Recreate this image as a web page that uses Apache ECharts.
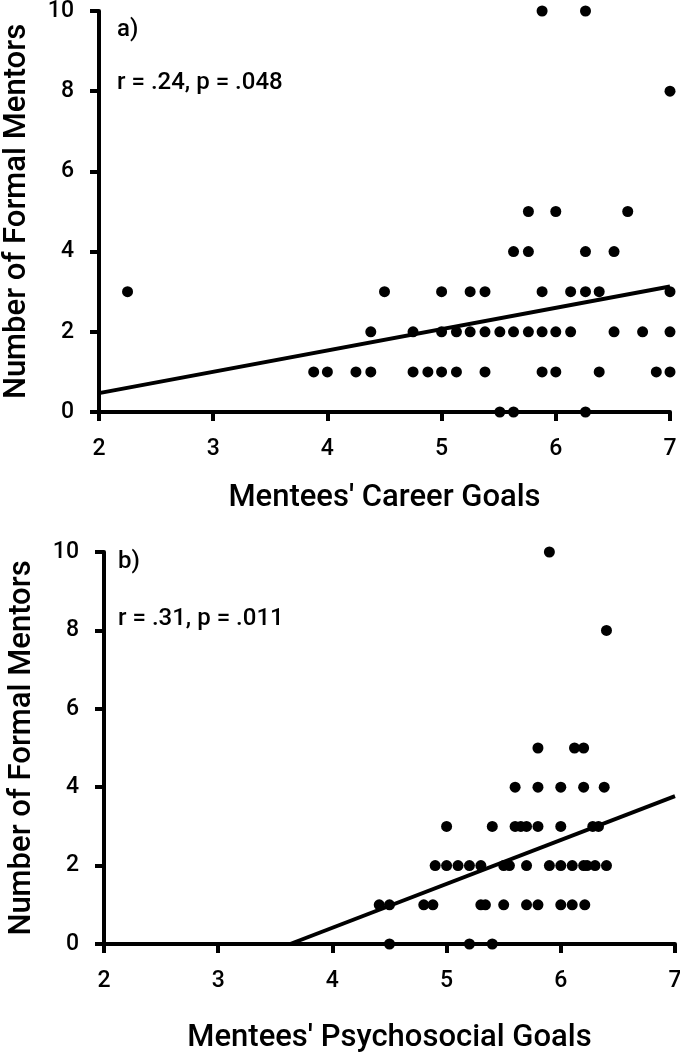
<!DOCTYPE html>
<html>
<head>
<meta charset="utf-8">
<script src="https://cdn.jsdelivr.net/npm/echarts@6/dist/echarts.min.js"></script>
<style>
html,body{margin:0;padding:0;background:#fff;}
#chart{width:680px;height:1055px;}
</style>
</head>
<body>
<div id="chart"></div>
<script>
// Panel a) Career goals vs number of formal mentors
const careerPoints = [
  [2.25,3],
  [3.88,1],[4.00,1],[4.25,1],[4.38,1],[4.75,1],[4.88,1],[5.00,1],[5.13,1],[5.38,1],[5.88,1],[6.00,1],[6.38,1],[6.88,1],[7.00,1],
  [4.38,2],[4.75,2],[5.00,2],[5.13,2],[5.25,2],[5.38,2],[5.51,2],[5.63,2],[5.76,2],[5.88,2],[6.00,2],[6.13,2],[6.51,2],[6.76,2],[7.00,2],
  [4.50,3],[5.00,3],[5.25,3],[5.38,3],[5.88,3],[6.13,3],[6.26,3],[6.38,3],[7.00,3],
  [5.63,4],[5.76,4],[6.26,4],[6.51,4],
  [5.76,5],[6.00,5],[6.63,5],
  [7.00,8],
  [5.88,10],[6.26,10],
  [5.51,0],[5.63,0],[6.26,0]
];
const careerTrend = [[2,0.47],[7,3.13]];

// Panel b) Psychosocial goals vs number of formal mentors
const psychoPoints = [
  [4.50,0],[5.20,0],[5.40,0],
  [4.41,1],[4.50,1],[4.80,1],[4.88,1],[5.30,1],[5.34,1],[5.50,1],[5.70,1],[5.80,1],[6.00,1],[6.10,1],[6.21,1],
  [4.90,2],[5.00,2],[5.10,2],[5.20,2],[5.30,2],[5.50,2],[5.55,2],[5.70,2],[5.90,2],[6.00,2],[6.10,2],[6.20,2],[6.23,2],[6.30,2],[6.40,2],
  [5.00,3],[5.40,3],[5.60,3],[5.65,3],[5.70,3],[5.80,3],[6.00,3],[6.28,3],[6.33,3],
  [5.60,4],[5.80,4],[6.00,4],[6.20,4],[6.38,4],
  [5.80,5],[6.12,5],[6.20,5],
  [6.40,8],
  [5.90,10]
];
const psychoTrend = [[3.63,0],[7,3.77]];

const xTicks = [2,3,4,5,6,7];
const yTicks = [0,2,4,6,8,10];
const panelLabels = ['a)','b)'];
const statLabels = ['r = .24, p = .048','r = .31, p = .011'];
const xNames = ["Mentees' Career Goals","Mentees' Psychosocial Goals"];
const yName = 'Number of Formal Mentors';

const FONT = 'Roboto';
const W = 500;
const chart = echarts.init(document.getElementById('chart'));

function xAxisCfg(gi, name, gap){
  return {
    type:'value', gridIndex:gi, min:xTicks[0], max:xTicks[xTicks.length-1], interval:1,
    name:name, nameLocation:'middle', nameGap:gap,
    nameTextStyle:{fontFamily:FONT, fontSize:31, fontWeight:W, color:'#000'},
    axisLine:{show:true, onZero:false, lineStyle:{color:'#000', width:4}},
    axisTick:{show:true, length:9, lineStyle:{color:'#000', width:4}},
    axisLabel:{fontFamily:FONT, fontSize:23, fontWeight:W, color:'#000', margin:26},
    splitLine:{show:false}
  };
}
function yAxisCfg(gi){
  return {
    type:'value', gridIndex:gi, min:yTicks[0], max:yTicks[yTicks.length-1], interval:2,
    name:yName, nameLocation:'middle', nameGap:66, nameRotate:90,
    nameTextStyle:{fontFamily:FONT, fontSize:31, fontWeight:W, color:'#000'},
    axisLine:{show:true, onZero:false, lineStyle:{color:'#000', width:4}},
    axisTick:{show:true, length:9, lineStyle:{color:'#000', width:4}},
    axisLabel:{fontFamily:FONT, fontSize:23, fontWeight:W, color:'#000', margin:25},
    splitLine:{show:false}
  };
}

const txt = (t) => ({text:t, fontFamily:FONT, fontSize:24, fontWeight:W, fill:'#000'});

const option = {
  backgroundColor:'#fff',
  animation:false,
  grid:[
    {left:99, top:11, width:571, height:401, outerBoundsMode:'none', containLabel:false},
    {left:104, top:552, width:571, height:392, outerBoundsMode:'none', containLabel:false}
  ],
  xAxis:[xAxisCfg(0, xNames[0], 71), xAxisCfg(1, xNames[1], 79)],
  yAxis:[yAxisCfg(0), yAxisCfg(1)],
  graphic:[
    {type:'text', left:117, top:18, style:txt(panelLabels[0])},
    {type:'text', left:117, top:71, style:txt(statLabels[0])},
    {type:'text', left:118, top:550, style:txt(panelLabels[1])},
    {type:'text', left:118, top:607, style:txt(statLabels[1])}
  ],
  series:[
    {type:'scatter', xAxisIndex:0, yAxisIndex:0, data:careerPoints, symbolSize:11, itemStyle:{color:'#000', opacity:1}, z:3},
    {type:'line', xAxisIndex:0, yAxisIndex:0, data:careerTrend, symbol:'none', lineStyle:{color:'#000', width:4}, z:4},
    {type:'scatter', xAxisIndex:1, yAxisIndex:1, data:psychoPoints, symbolSize:11, itemStyle:{color:'#000', opacity:1}, z:3},
    {type:'line', xAxisIndex:1, yAxisIndex:1, data:psychoTrend, symbol:'none', lineStyle:{color:'#000', width:4}, z:4}
  ]
};
chart.setOption(option);
</script>
</body>
</html>
